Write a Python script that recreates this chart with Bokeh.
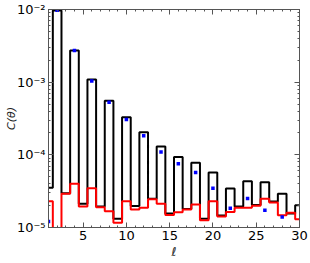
from bokeh.plotting import figure
from bokeh.models import FixedTicker, LinearAxis, LogAxis
from bokeh.embed import file_html
from bokeh.resources import INLINE

# multipole index
ell = list(range(1, 31))
# black step series
black = [3.52e-5, 9.7e-3, 2.97e-5, 2.73e-3, 2.12e-5, 1.09e-3, 1.95e-5, 5.54e-4,
         1.32e-5, 3.30e-4, 1.98e-5, 2.05e-4, 2.49e-5, 1.30e-4, 1.56e-5, 9.3e-5,
         1.80e-5, 7.77e-5, 1.32e-5, 5.71e-5, 1.46e-5, 3.44e-5, 1.94e-5, 4.34e-5,
         2.04e-5, 4.20e-5, 2.28e-5, 2.91e-5, 1.56e-5, 2.03e-5]
# red step series
red = [2.30e-5, 5.0e-6, 2.91e-5, 3.99e-5, 1.95e-5, 3.47e-5, 1.90e-5, 1.68e-5,
       1.16e-5, 2.30e-5, 1.77e-5, 1.87e-5, 2.45e-5, 2.12e-5, 1.49e-5, 1.62e-5,
       1.77e-5, 2.07e-5, 1.26e-5, 2.30e-5, 1.42e-5, 1.64e-5, 1.87e-5, 1.87e-5,
       1.99e-5, 2.48e-5, 2.21e-5, 1.48e-5, 1.59e-5, 1.30e-5]
# blue points
blue_ell = [1, 2, 4, 6, 8, 10, 12, 14, 16, 18, 20, 22, 24, 26, 28]
blue = [1.21e-5, 9.8e-3, 2.73e-3, 1.04e-3, 5.3e-4, 3.06e-4, 1.83e-4, 1.09e-4,
        7.53e-5, 5.71e-5, 3.47e-5, 1.84e-5, 2.51e-5, 1.73e-5, 1.39e-5]

x_major = [5, 10, 15, 20, 25, 30]
x_minor = list(range(1, 31))
y_major = [1e-5, 1e-4, 1e-3, 1e-2]
y_labels = ["10\u207b\u2075", "10\u207b\u2074", "10\u207b\u00b3", "10\u207b\u00b2"]
y_minor = [k * 10.0 ** d for d in (-5, -4, -3) for k in range(2, 10)]

FONT = "DejaVu Sans"
AX = "#555555"

p = figure(width=310, height=263, x_range=(1, 30), y_range=(1e-5, 1e-2),
           y_axis_type="log", output_backend="svg", toolbar_location=None,
           min_border_top=9, min_border_right=11, min_border_left=48,
           min_border_bottom=36, background_fill_color="white",
           border_fill_color="white")
p.grid.visible = False
p.outline_line_color = AX

def style(ax):
    ax.axis_line_color = AX
    ax.major_tick_line_color = AX
    ax.minor_tick_line_color = AX
    ax.major_tick_in = 5
    ax.major_tick_out = 0
    ax.minor_tick_in = 2
    ax.minor_tick_out = 0
    ax.major_label_text_font = FONT
    ax.major_label_text_font_size = "13px"
    ax.major_label_text_color = "black"

xa = p.xaxis[0]
xa.ticker = FixedTicker(ticks=x_major, minor_ticks=x_minor)
style(xa)
xa.major_label_standoff = 3
xa.axis_label = "\u2113"
xa.axis_label_text_font = FONT
xa.axis_label_text_font_style = "italic"
xa.axis_label_text_font_size = "12px"
xa.axis_label_text_color = "#222222"
xa.axis_label_standoff = 2

ya = p.yaxis[0]
ya.ticker = FixedTicker(ticks=y_major, minor_ticks=y_minor)
style(ya)
ya.major_label_overrides = {v: s for v, s in zip(y_major, y_labels)}
ya.major_label_standoff = 3
ya.axis_label = "C(\u03b8)"
ya.axis_label_text_font = FONT
ya.axis_label_text_font_style = "italic"
ya.axis_label_text_font_size = "11px"
ya.axis_label_text_color = "#222222"
ya.axis_label_standoff = -4

top = LinearAxis(ticker=FixedTicker(ticks=x_major, minor_ticks=x_minor))
style(top)
top.major_label_overrides = {v: "" for v in x_major}
top.major_label_text_font_size = "0px"
top.major_label_standoff = 0
p.add_layout(top, "above")

right = LogAxis(ticker=FixedTicker(ticks=y_major, minor_ticks=y_minor))
style(right)
right.major_label_overrides = {v: "" for v in y_major}
right.major_label_text_font_size = "0px"
right.major_label_standoff = 0
p.add_layout(right, "right")

p.step(x=ell, y=black, mode="center", line_color="black", line_width=2)
p.step(x=ell, y=red, mode="center", line_color="red", line_width=2)
p.scatter(x=blue_ell, y=blue, marker="square", size=3.5, fill_color="blue",
          line_color=None)

open("out.html", "w").write(file_html(p, INLINE))
